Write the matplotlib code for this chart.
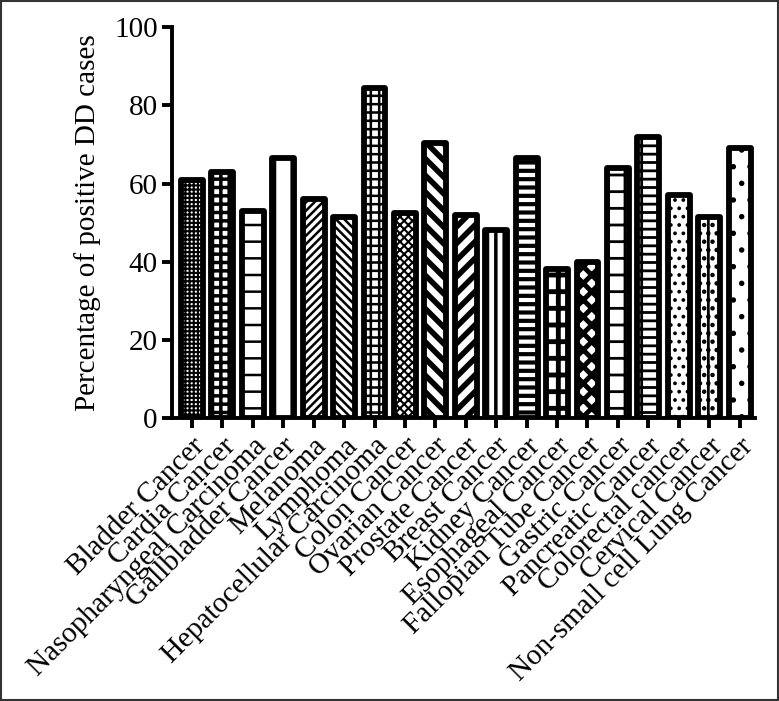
import matplotlib.pyplot as plt
import numpy as np
from matplotlib.patches import Rectangle

plt.rcParams['font.family'] = ['Liberation Serif', 'DejaVu Serif']
plt.rcParams['hatch.linewidth'] = 1.8
plt.rcParams['hatch.color'] = 'black'

# Data
cancers = ['Bladder Cancer', 'Cardia Cancer', 'Nasopharyngeal Carcinoma',
           'Gallbladder Cancer', 'Melanoma', 'Lymphoma',
           'Hepatocellular Carcinoma', 'Colon Cancer', 'Ovarian Cancer',
           'Prostate Cancer', 'Breast Cancer', 'Kidney Cancer',
           'Esophageal Cancer', 'Fallopian Tube Cancer', 'Gastric Cancer',
           'Pancreatic Cancer', 'Colorectal cancer', 'Cervical Cancer',
           'Non-small cell Lung Cancer']
percent_positive = [61, 63, 53, 66.5, 56, 51.5, 84.5, 52.5, 70.5, 52,
                    48, 66.5, 38, 40, 64, 72, 57, 51.5, 69]

# hatch pattern and hatch line width for each bar
hatches = ['++++', '++', '-', '|', '////', '\\\\\\\\', '++', 'xxxx', '\\\\',
           '//', '||', '--', '+', 'xx', '-|', '--|', '..', '|..', '.']
hatch_lw = [1.5, 2.5, 1.8, 1.8, 1.8, 1.8, 1.8, 1.5, 4.0,
            4.0, 2.5, 3.0, 3.5, 3.5, 2.0, 2.0, 1.5, 2.0, 1.5]

fig = plt.figure(figsize=(7.79, 7.01), dpi=100)
ax = fig.add_axes([0.221, 0.404, 0.748, 0.557])

x = np.arange(len(cancers))
bars = ax.bar(x, percent_positive, width=0.72, color='white',
              edgecolor='black', linewidth=4.2, zorder=3)
for b, h, lw in zip(bars, hatches, hatch_lw):
    b.set_hatch(h)
    b.set_joinstyle('round')
    if hasattr(b, 'set_hatch_linewidth'):
        b.set_hatch_linewidth(lw)

ax.set_xlim(-0.65, 18.5)
ax.set_ylim(0, 100)
ax.set_yticks([0, 20, 40, 60, 80, 100])
ax.set_xticks(x)
ax.set_xticklabels(cancers, rotation=45, ha='right', rotation_mode='anchor',
                   fontsize=21)
ax.tick_params(axis='y', labelsize=21, length=7, width=2.8, direction='out')
ax.tick_params(axis='x', length=7, width=2.8, direction='out', pad=4)
ax.set_ylabel('Percentage of positive DD cases', fontsize=21, labelpad=9)

for side in ['top', 'right']:
    ax.spines[side].set_visible(False)
for side in ['left', 'bottom']:
    ax.spines[side].set_linewidth(2.8)

# thin frame around the figure
fig.patches.append(Rectangle((0.001, 0.001), 0.998, 0.998, transform=fig.transFigure,
                             fill=False, edgecolor='#333333', linewidth=1.5))

fig.savefig('out.png', dpi=100)
